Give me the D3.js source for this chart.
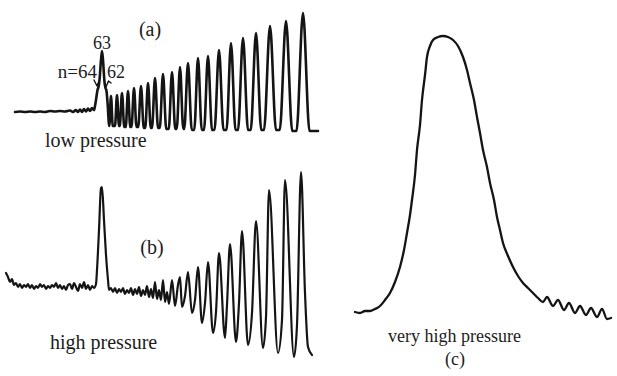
<!DOCTYPE html>
<html>
<head>
<meta charset="utf-8">
<script src="https://cdn.jsdelivr.net/npm/d3@7"></script>
<style>
html, body { margin:0; padding:0; background:#fff; }
svg text { font-family: "Liberation Serif", "Times New Roman", serif; fill:#1c1c1c; }
.trace { fill:none; stroke:#141414; stroke-linejoin:round; stroke-linecap:round; }
</style>
</head>
<body>
<svg id="chart" width="617" height="376"></svg>
<script>
// (a) low pressure - flat start, n=64 / 63 / 62 group
var aLeadX = [0,5,10,15,20,25,30,35,40,45,50,55,58,61,63,65,67,69,71,73,75,77,79,80,81,82.5,83.5,84.5,86,87,88,89.5,90.5,91.5,92.5];
var aLeadY = [20,20.5,20,20.5,20,20.5,20,21,20.5,21,20.5,21.5,20,22,20,22.5,20,23,20.5,23.5,21,24,22,26,32,42,45,52,72,81,72,50,44,41,30];
// (a) the long progression of lines
var aPeakX = [96,102,107,113,119,126,133,140,148,157,165,173,183,193,204,216,228,241,255,271,288];
var aPeakTop = [36,37,39,41,44,46,49,54,58,60,65,69,74,76,82,89,94,99,106,111,119];
var aPeakWidth = [3.5,4,4.5,4.5,5,5.5,5.5,6,6.5,6.5,6.5,7.5,7.5,8,9,9,10,10.5,12,12.5,13];
var aValley = [6,6,6,5,5,5,4,4,4,3,3,3,2,2,2,2,2,2,2,2,1,1];
var aTailX = [303];
var aTailY = [1];

// (b) high pressure
var bX = [0,2,4,6,8,10,12,14,16,18,20,22,24,26,28,30,32,34,36,38,40,42,44,46,48,50,52,54,56,58,60,62,64,66,68,70,72,74,76,78,80,82,84,86,88,90,
  91,93,95,96,98,100,102,103,105,
  107,109,111,113,115,117,119,121,123,125,127,129,131,133,135,137,139,141,143,145,147,149,151,153,155,157,159,161,163,166,169,172,174,176,179,
  182,186,189,192,196,199,202,207,210,213,219,221,224,230,233,236,242,246,250,257,260,263,272,276,279,288,291,295,299,302,306];
var bY = [87,83,78,81,75,77,73,76,72,75,73,76,72,75,71,74,72,76,73,75,71,74,72,75,73,77,72,75,71,74,70,75,76,71,77,73,69,76,72,78,71,75,70,74,72,76,
  90,130,172,173,140,105,80,70,72,
  68,72,67,71,68,72,66,70,67,72,65,71,66,73,64,70,65,74,63,71,62,78,61,70,60,80,58,68,56,80,54,75,83,53,64,
  88,47,60,93,37,57,98,27,48,107,22,55,116,18,57,129,15,47,139,12,43,170,7,40,180,3,35,188,67,13,5];

// (c) very high pressure
var cX = [0,5,10,15,20,25,30,35,40,45,49,52,55,57,60,62,65,67,70,72,75,78,83,88,93,98,103,108,112,115,119,122,125,128,132,135,139,142,145,148,153,158,163,168,173,178,183,188,192,198,203,209,214,220,225,231,236,242,247,252,256];
var cY = [8,7,9,9,11,14,20,27,38,53,70,87,105,120,145,170,195,220,245,263,274,280,283,284,283,280,274,263,250,237,220,203,187,170,153,137,120,103,90,77,64,53,44,37,32,27,22,18,23,14,20,10,17,7,14,5,12,3,11,1,2];

var svg = d3.select("#chart");

var xa = d3.scaleLinear().domain([0,303]).range([15,318]);
var ya = d3.scaleLinear().domain([0,120]).range([132,12]);
var xb = d3.scaleLinear().domain([0,306]).range([6,312]);
var yb = d3.scaleLinear().domain([0,190]).range([360,170]);
var xc = d3.scaleLinear().domain([0,256]).range([355,611]);
var yc = d3.scaleLinear().domain([0,285]).range([320,35]);

// lead-in, then foot / top / foot for every line, then the tail
var aPts = aLeadX.map(function(x,i){ return [x, aLeadY[i]]; });
aPeakX.forEach(function(x,i){
  aPts.push([x - aPeakWidth[i]/2, aValley[i]]);
  aPts.push([x, aPeakTop[i]]);
  aPts.push([x + aPeakWidth[i]/2, aValley[i+1]]);
});
aTailX.forEach(function(x,i){ aPts.push([x, aTailY[i]]); });

var lineA = d3.line().x(function(d){ return xa(d[0]); }).y(function(d){ return ya(d[1]); }).curve(d3.curveMonotoneX);
var lineB = d3.line().x(function(d){ return xb(d[0]); }).y(function(d){ return yb(d[1]); }).curve(d3.curveMonotoneX);
var lineC = d3.line().x(function(d){ return xc(d[0]); }).y(function(d){ return yc(d[1]); }).curve(d3.curveMonotoneX);

svg.append("path").attr("class","trace").attr("stroke-width",2.6).attr("d", lineA(aPts));
svg.append("path").attr("class","trace").attr("stroke-width",2.2)
  .attr("d", lineB(bX.map(function(x,i){ return [x, bY[i]]; })));
svg.append("path").attr("class","trace").attr("stroke-width",2.3)
  .attr("d", lineC(cX.map(function(x,i){ return [x, cY[i]]; })));

// little marks pointing at the n=64 and 62 shoulders
var s64 = [83.5,45], s62 = [90.5,44];
svg.append("path").attr("class","trace").attr("stroke-width",1.4)
  .attr("d", "M" + (xa(s64[0])-4.5) + "," + (ya(s64[1])-7) + " L" + (xa(s64[0])-1.5) + "," + (ya(s64[1])-1) + " L" + (xa(s64[0])+0.5) + "," + (ya(s64[1])-6));
svg.append("path").attr("class","trace").attr("stroke-width",1.4)
  .attr("d", "M" + (xa(s62[0])+0.5) + "," + (ya(s62[1])-1) + " L" + (xa(s62[0])+3) + "," + (ya(s62[1])-7) + " L" + (xa(s62[0])+5.5) + "," + (ya(s62[1])-5));

function label(txt, x, y, size, anchor){
  svg.append("text").attr("x", x).attr("y", y).attr("font-size", size)
    .attr("font-family", "Liberation Serif")
    .attr("text-anchor", anchor || "start").text(txt);
}
label("(a)", 150, 36, 20, "middle");
label("63", xa(87), 49, 18, "middle");
label("n=64", 97, 78, 19, "end");
label("62", 107, 78, 18);
label("low pressure", 45, 147, 20);
label("(b)", 152, 254, 20, "middle");
label("high pressure", 50, 349, 20);
label("very high pressure", 388, 342, 18);
label("(c)", 455, 365, 18, "middle");
</script>
</body>
</html>
